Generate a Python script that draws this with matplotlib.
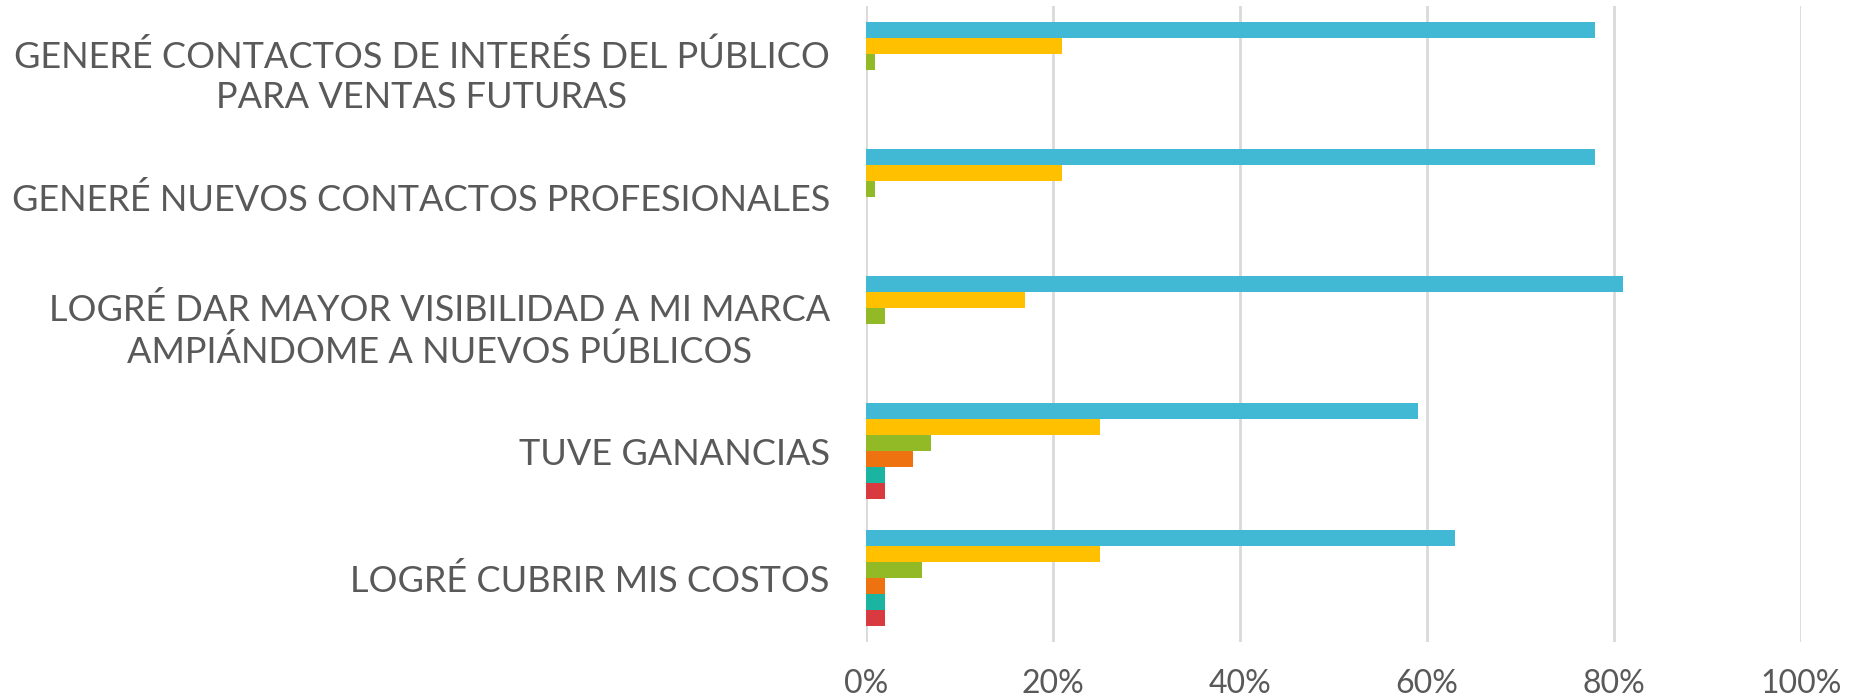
import numpy as np
import matplotlib.pyplot as plt

# Categories, top to bottom
categories = [
    'GENERÉ CONTACTOS DE INTERÉS DEL PÚBLICO\nPARA VENTAS FUTURAS',
    'GENERÉ NUEVOS CONTACTOS PROFESIONALES',
    'LOGRÉ DAR MAYOR VISIBILIDAD A MI MARCA\nAMPIÁNDOME A NUEVOS PÚBLICOS',
    'TUVE GANANCIAS',
    'LOGRÉ CUBRIR MIS COSTOS',
]

# Series values (fractions), one list per colour
serie_azul = [0.78, 0.78, 0.81, 0.59, 0.63]
serie_amarilla = [0.21, 0.21, 0.17, 0.25, 0.25]
serie_verde = [0.01, 0.01, 0.02, 0.07, 0.06]
serie_naranja = [0.0, 0.0, 0.0, 0.05, 0.02]
serie_turquesa = [0.0, 0.0, 0.0, 0.02, 0.02]
serie_roja = [0.0, 0.0, 0.0, 0.02, 0.02]

tick_values = [0, 0.2, 0.4, 0.6, 0.8, 1.0]
tick_labels = ['0%', '20%', '40%', '60%', '80%', '100%']

series = [serie_azul, serie_amarilla, serie_verde, serie_naranja, serie_turquesa, serie_roja]
colors = ['#41B9D4', '#FFC000', '#92BA26', '#EE7310', '#1AB4A0', '#D83A40']

fig = plt.figure(figsize=(18.65, 6.98), dpi=100)
ax = fig.add_axes([0.4643, 0.0809, 0.5014, 0.9098])

text_color = '#595959'
bar_h = 0.126
y = np.arange(len(categories))
start = -bar_h * len(series) / 2
for j, (vals, c) in enumerate(zip(series, colors)):
    ax.barh(y + start + bar_h * (j + 0.5), vals, height=bar_h, color=c,
            linewidth=0, zorder=3)

ax.set_ylim(len(categories) - 0.5, -0.5)
ax.set_xlim(0, 1.0)
ax.set_yticks(y)
ax.set_yticklabels(categories, fontsize=26, color=text_color, family='Lato',
                   linespacing=1.28, ha='right')
for lbl in ax.get_yticklabels():
    lbl.set_multialignment('center')
ax.set_xticks(tick_values)
ax.set_xticklabels(tick_labels, fontsize=23, color=text_color, family='Lato')
ax.tick_params(axis='y', length=0, pad=26)
ax.tick_params(axis='x', length=0, pad=20)
ax.grid(axis='x', color='#D9D9D9', linewidth=2, zorder=0)
for s in ax.spines.values():
    s.set_visible(False)

fig.savefig('out.png', dpi=100)
